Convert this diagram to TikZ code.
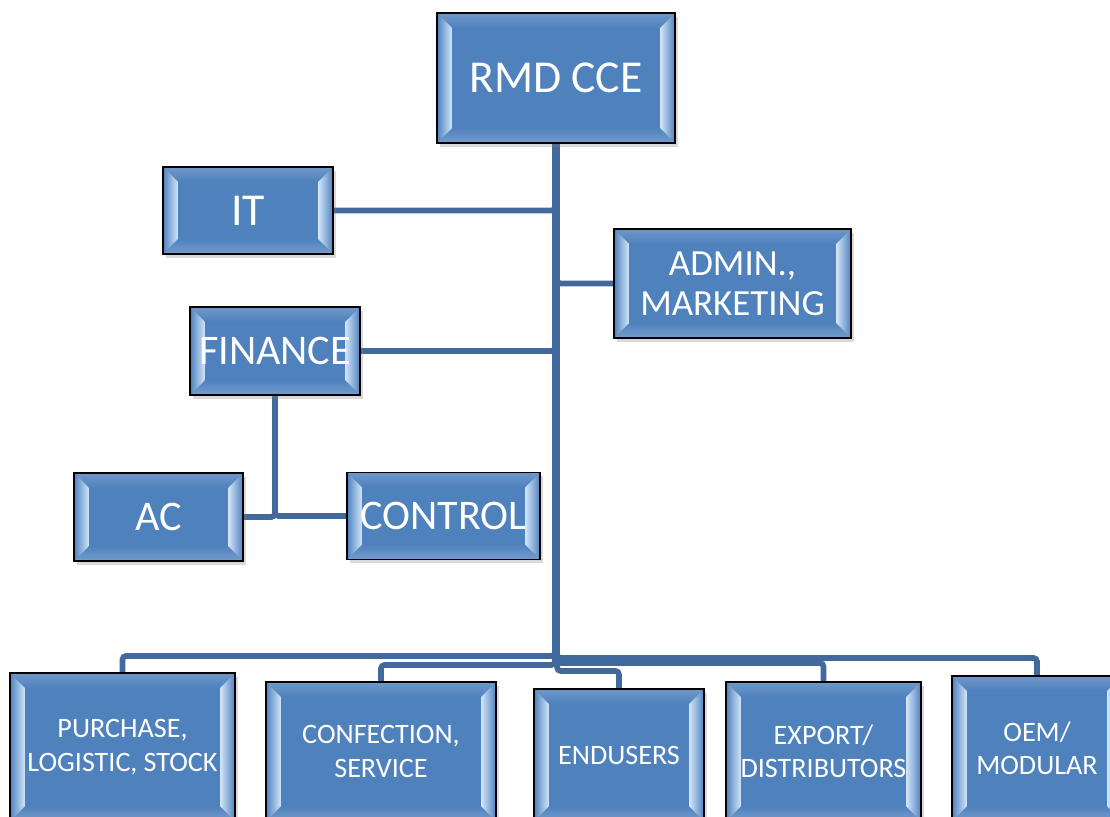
\documentclass[tikz,border=0pt]{standalone}
\usepackage{fontspec}
\setmainfont{Carlito}
\usetikzlibrary{shadows,backgrounds}

\definecolor{boxblue}{HTML}{4F81BD}
\definecolor{bevlight}{HTML}{D2E6FA}
\definecolor{linkblue}{HTML}{41699B}

\tikzset{
  orgbox/.style={draw=black, line width=1.1pt, fill=boxblue, text=white,
    align=center, inner sep=2pt,
    drop shadow={shadow xshift=1.5pt, shadow yshift=-2pt, opacity=.3},
    path picture={
      \path (path picture bounding box.north west) coordinate (bnw)
            (path picture bounding box.north east) coordinate (bne)
            (path picture bounding box.south west) coordinate (bsw)
            (path picture bounding box.south east) coordinate (bse);
      % top and bottom bevel
      \shade[top color=boxblue!82!white, bottom color=boxblue]
        (bnw) -- (bne) -- ([xshift=-8.5pt,yshift=-8.5pt]bne)
        -- ([xshift=8.5pt,yshift=-8.5pt]bnw) -- cycle;
      \shade[bottom color=boxblue!78!white, top color=boxblue]
        (bsw) -- (bse) -- ([xshift=-8.5pt,yshift=8.5pt]bse)
        -- ([xshift=8.5pt,yshift=8.5pt]bsw) -- cycle;
      % side bevels
      \shade[left color=boxblue, middle color=boxblue!80!bevlight, right color=bevlight]
        (bnw) -- ([xshift=8.5pt,yshift=-8.5pt]bnw)
        -- ([xshift=8.5pt,yshift=8.5pt]bsw) -- (bsw) -- cycle;
      \shade[left color=bevlight, middle color=boxblue!80!bevlight, right color=boxblue]
        (bne) -- ([xshift=-8.5pt,yshift=-8.5pt]bne)
        -- ([xshift=-8.5pt,yshift=8.5pt]bse) -- (bse) -- cycle;
    }},
  link/.style={draw=linkblue, line width=3.2pt, rounded corners=2pt},
  big/.style={font=\fontsize{26}{31}\selectfont},
  mid/.style={font=\fontsize{24}{29}\selectfont},
  small/.style={font=\fontsize{21}{23}\selectfont},
  unit/.style={font=\fontsize{16}{19}\selectfont},
}

\begin{document}
\begin{tikzpicture}[x=0.2mm, y=-0.2mm]
  \clip (0,0) rectangle (1110,817);

  % top of the chart
  \node[orgbox, big, minimum width=47.6mm, minimum height=26mm] (rmd) at (556,78) {RMD CCE};
  \node[orgbox, big, minimum width=34mm, minimum height=17.4mm] (it) at (248,210.5) {IT};
  \node[orgbox, small, minimum width=47.4mm, minimum height=21.8mm] (adm) at (732.5,283.5) {ADMIN.,\\MARKETING};
  \node[orgbox, mid, minimum width=34mm, minimum height=17.6mm] (fin) at (275,351) {FINANCE};

  % finance units
  \node[orgbox, mid, minimum width=33.8mm, minimum height=17.6mm] (ac) at (158.5,517) {AC};
  \node[orgbox, mid, minimum width=38.6mm, minimum height=17.4mm] (ctl) at (443.5,516) {CONTROL};

  % bottom row
  \node[orgbox, unit, minimum width=45mm, minimum height=29.6mm] (pur) at (122.5,822) [anchor=south] {PURCHASE,\\LOGISTIC, STOCK};
  \node[orgbox, unit, minimum width=46mm, minimum height=27.8mm] (cnf) at (381,822) [anchor=south] {CONFECTION,\\SERVICE};
  \node[orgbox, unit, minimum width=34mm, minimum height=26.4mm] (end) at (619,822) [anchor=south] {ENDUSERS};
  \node[orgbox, unit, minimum width=39mm, minimum height=27.8mm] (exp) at (823.5,822) [anchor=south] {EXPORT/\\DISTRIBUTORS};
  \node[orgbox, unit, minimum width=34mm, minimum height=29mm] (oem) at (1037,822) [anchor=south] {OEM/\\MODULAR};

  \begin{scope}[on background layer]
    \draw[link] ([xshift=-.6pt]rmd.south) |- (it.east);
    \draw[link] ([xshift=.6pt]rmd.south) |- (adm.west);
    \draw[link] ([xshift=-.6pt]rmd.south) |- (fin.east);
    \draw[link] (fin.south) |- (ac.east);
    \draw[link] (fin.south) |- (ctl.west);
    \draw[link] ([xshift=-.6pt]rmd.south) -- ++(0,512) -| (pur.north);
    \draw[link] ([xshift=-.6pt]rmd.south) -- ++(0,521) -| (cnf.north);
    \draw[link] ([xshift=.6pt]rmd.south) -- ++(0,527) -| (end.north);
    \draw[link] ([xshift=.6pt]rmd.south) -- ++(0,519) -| (exp.north);
    \draw[link] ([xshift=.6pt]rmd.south) -- ++(0,514) -| (oem.north);
  \end{scope}
\end{tikzpicture}
\end{document}
